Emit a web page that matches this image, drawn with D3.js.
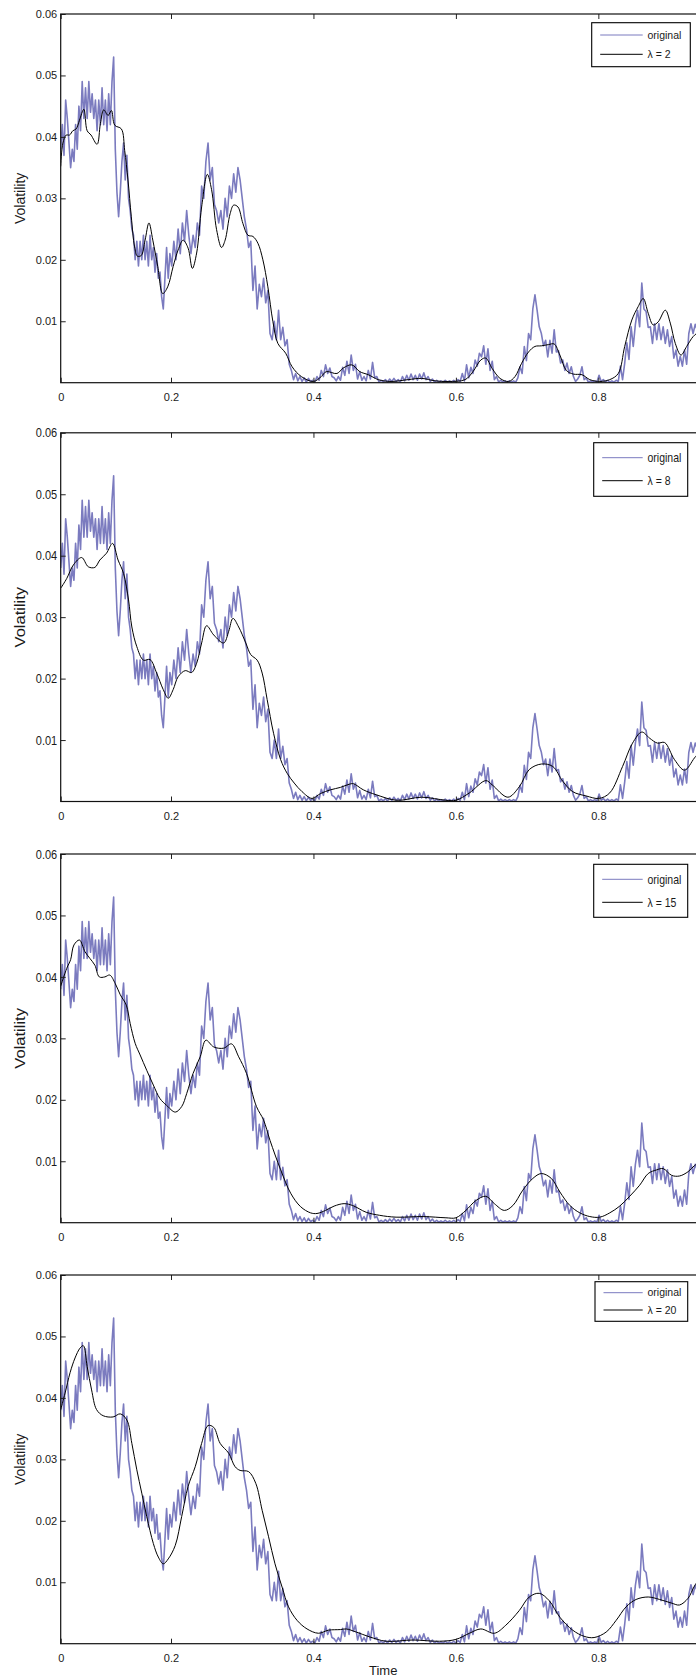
<!DOCTYPE html>
<html><head><meta charset="utf-8">
<script src="https://cdn.jsdelivr.net/npm/d3@7"></script>
<style>
html,body{margin:0;padding:0;background:#fff;overflow:hidden}
svg{display:block}
text{font-family:"Liberation Sans",Arial,Helvetica,sans-serif;fill:#1a1a1a}
</style></head><body>
<svg id="chart" width="696" height="1680"></svg>
<script>
// Volatility values are stored in units of 1e-3.
const volUnit = 1e-3;

// Original volatility path, sampled every 0.003 time units from t = 0.
const timeStep = 0.003;
const originalVol = [
  38,42,37,46,43,39,35,38,36,42,
  38,45,41,49,43,48,43,49,44,47,
  43,46,41,46,42,48,42,46,41,47,
  42,49,53,38,31,27,31,36,39,33,
  37,30,28,25,24,20,23,19,23,20,
  24,20,23,19,24,20,22,18,21,17,
  18,14,12,17,22,17,21,19,23,20,
  25,21,26,23,28,24,21,24,22,26,
  24,32,30,36,39,33,35,29,28,26,
  28,25,30,27,32,30,34,31,35,33,
  30,27,25,22,23,15,19,12,16,14,
  17,13,15,8,7,10,7,11.8,7,9,
  6,7,3,2,0.5,1.5,0.3,1,0.2,0.8,
  0.1,0.7,0.2,0.4,0.1,1,0.4,2,1,2.9,
  1.5,2.4,1,0.8,0.3,1,0.4,2.5,1.2,3.5,
  1.5,4.5,2,3,0.6,1.8,0.4,1,0.3,2,
  0.6,3.3,0.8,1,0.1,0.4,0.1,0.5,0.1,0.6,
  0.2,0.7,0.2,0.5,0.1,1,0.3,1.2,0.4,1.4,
  0.5,1.2,0.4,1.4,0.6,1.6,0.5,1,0.2,0.6,
  0.1,0.4,0.1,0.3,0.1,0.4,0.1,0.3,0.1,0.4,
  0.1,0.5,0.2,1.5,0.3,2.9,0.8,2.5,1.5,3.7,
  2.7,4.8,4.2,6,3,5.5,2,3.5,0.5,1,
  0.1,0.4,0.1,0.3,0.1,0.3,0.1,0.3,0.1,0.8,
  2.6,1.5,5.9,3.6,8,7,12,14.3,11.8,9.1,
  8,6,6.9,4.2,6.9,4.8,8.6,5,5.2,3.2,
  3.7,2,3.2,1.5,2.6,1,0.2,0.6,1.2,2.6,
  0.5,0.8,0.1,0.3,0.1,0.3,0.1,1.2,0.2,0.5,
  0.1,0.4,0.1,0.3,0.1,0.4,0.2,2.7,0.5,3.2,
  6.5,3.8,9.1,5.9,9.5,11.8,9.1,16.2,12,11.6,
  9,9.1,6.4,9.6,7,9.6,7,9.1,6.4,8.6,
  5.9,7.5,4,5.3,2.7,4.3,2.7,5.3,3,8,
  9.6,8,9.5,8.5,10,8.5,9.6,8.5
];

// Smoothed estimates, [time, volatility] pairs.
const smoothLambda2 = [
  [0,35.2],[.004,39],[.010,40.3],[.016,40.3],[.022,41],[.028,41.3],[.034,42.7],[.042,44.5],[.048,41],[.055,40.3],
  [.066,38.8],[.072,42.2],[.078,44.4],[.086,43.5],[.092,44.3],[.098,41.9],[.110,41.3],[.116,37.8],[.122,33],[.128,27],
  [.134,22.1],[.139,20.6],[.146,20.7],[.153,23.2],[.160,26],[.167,23.2],[.176,18.9],[.185,14.5],[.194,15.6],[.203,18.9],
  [.210,21.6],[.217,23.2],[.224,21.9],[.230,18.6],[.236,21.1],[.243,28.6],[.251,33.9],[.257,31.4],[.264,24.9],[.271,22],
  [.276,23.2],[.283,27.5],[.288,28.9],[.294,28.6],[.301,25.9],[.308,24],[.315,23.8],[.322,22.7],[.329,20],[.336,15.6],
  [.343,10],[.350,6.4],[.361,4.8],[.370,2.6],[.383,1],[.400,0.2],[.411,1],[.418,1.8],[.433,1.5],[.442,2.4],
  [.454,2.9],[.465,1.8],[.477,1.3],[.491,0.5],[.509,0.2],[.533,0.5],[.552,0.7],[.571,0.3],[.589,0.2],[.613,0.5],
  [.624,1.8],[.635,3.7],[.642,4],[.651,2.3],[.662,0.7],[.674,0.2],[.683,1],[.692,3.1],[.702,5],[.711,5.9],
  [.720,6],[.730,6.2],[.738,6.3],[.746,4.5],[.755,2],[.765,1.4],[.777,1.3],[.788,0.5],[.802,0.2],[.816,0.5],
  [.828,1.5],[.837,5.9],[.847,10.2],[.856,12.4],[.863,13.7],[.870,11.3],[.877,9.4],[.884,9.9],[.894,11.8],[.901,9.7],
  [.908,6.4],[.916,4.5],[.924,5.9],[.933,7.5],[.940,8.2]
];
const smoothLambda8 = [
  [0,34.7],[.011,36.3],[.023,38.5],[.038,39.7],[.050,38.2],[.062,38.1],[.071,39.3],[.083,40.4],[.094,42],[.104,39.3],
  [.114,37.1],[.123,32.8],[.129,28.4],[.138,25.2],[.150,23],[.162,23.1],[.174,20.9],[.186,18.2],[.195,16.8],[.203,18.2],
  [.210,20.3],[.220,21.3],[.229,21],[.236,22.5],[.243,25.8],[.250,28.6],[.260,27.1],[.274,25.8],[.281,27.7],[.287,29.8],
  [.295,28.4],[.305,25.8],[.312,23.9],[.321,23],[.328,20.9],[.335,16.6],[.344,11.1],[.354,6.8],[.363,4.6],[.373,3],
  [.384,1.6],[.398,0.5],[.410,1.3],[.424,1.9],[.438,2.3],[.450,2.8],[.456,2.9],[.470,1.9],[.488,1.1],[.517,0.2],
  [.552,0.7],[.586,0.2],[.600,0.2],[.619,1.4],[.642,3.4],[.651,2.7],[.673,0.7],[.689,2.4],[.703,5.2],[.720,6.1],
  [.736,5.7],[.750,3.3],[.764,1.6],[.783,0.9],[.801,0.5],[.816,1.4],[.834,5.7],[.848,9.5],[.861,11.3],[.872,10.3],
  [.883,9.5],[.893,9.6],[.907,6.8],[.921,5.1],[.935,7.1],[.945,8.5]
];
const smoothLambda15 = [
  [0,38.5],[.011,41.4],[.018,42.8],[.024,45.2],[.034,46],[.044,44.1],[.053,43],[.062,41.9],[.070,40],[.080,40],
  [.089,40.3],[.099,38.9],[.108,37.1],[.119,35.4],[.126,32.4],[.135,29.2],[.144,27.3],[.156,24.8],[.168,22.4],[.180,20.2],
  [.192,19.1],[.206,18],[.215,18.9],[.222,21],[.231,24.3],[.241,27],[.249,29.7],[.260,28.6],[.274,28.4],[.285,29.1],
  [.295,27],[.306,24.3],[.320,18.9],[.330,16.7],[.339,13.4],[.354,8.6],[.368,4.8],[.382,2.6],[.396,1.6],[.405,1.5],
  [.417,2],[.429,2.7],[.443,3.1],[.455,2.8],[.474,1.7],[.493,1.2],[.516,0.9],[.554,1],[.586,0.8],[.600,0.8],
  [.614,2],[.628,3.6],[.642,4.3],[.654,3.1],[.668,2],[.680,2.8],[.694,5.3],[.708,7.2],[.720,8],[.734,7.2],
  [.746,5],[.760,2.8],[.774,1.6],[.788,1],[.802,0.9],[.816,1.6],[.830,2.7],[.844,4.3],[.858,6.1],[.870,8],
  [.882,8.6],[.891,8.8],[.903,7.7],[.914,7.6],[.926,8.3],[.935,9.3],[.945,10]
];
const smoothLambda20 = [
  [0,38.1],[.008,40.8],[.017,44.1],[.026,46.5],[.035,48.1],[.041,48.5],[.048,45.1],[.056,41.3],[.065,38.1],[.077,37.1],
  [.095,36.9],[.108,37.4],[.120,36.4],[.129,32.6],[.138,28.3],[.147,24.5],[.156,20.7],[.168,16.3],[.177,14.1],[.186,13],
  [.195,13.8],[.206,16],[.215,20.7],[.224,25.6],[.234,28.8],[.243,32.6],[.252,35.5],[.260,35.2],[.269,32.6],[.281,31],
  [.290,28.8],[.297,28.2],[.309,28],[.319,26.1],[.328,21.7],[.337,17.4],[.346,13],[.356,9.2],[.365,6],[.377,3.8],
  [.391,2.4],[.407,1.7],[.421,2.2],[.438,2.3],[.446,2.4],[.460,1.9],[.479,1.1],[.502,0.4],[.540,0.6],[.577,0.4],
  [.600,0.7],[.619,1.7],[.635,2.4],[.654,1.7],[.670,3],[.689,5.4],[.703,7.6],[.717,8.2],[.731,7],[.746,4.3],
  [.764,2.2],[.780,1.2],[.794,1],[.811,1.9],[.825,3.8],[.839,6],[.853,7.2],[.870,7.6],[.886,7.2],[.903,6.6],
  [.914,6.3],[.926,7.4],[.935,9.4],[.945,11]
];

const lambdaLabels = ["2", "8", "15", "20"];
const smoothSeries = [smoothLambda2, smoothLambda8, smoothLambda15, smoothLambda20];
const xTickValues = [0, 0.2, 0.4, 0.6, 0.8];
const xTickLabels = ["0", "0.2", "0.4", "0.6", "0.8"];
const yTickValues = [0.01, 0.02, 0.03, 0.04, 0.05, 0.06];
const yTickLabels = ["0.01", "0.02", "0.03", "0.04", "0.05", "0.06"];
const legendOriginal = "original";
const yTitle = "Volatility";
const xTitle = "Time";

// ---- layout ----
const plotLeft = 60.7;
const plotHeight = 368.7;
const panelTops = [14, 432.8, 854, 1275];
const textStretch = [1, 1.18, 1.18, 1];
const legendBoxes = [
  {x: 591.7, y: 8.7,  w: 98.6, h: 44,   l1: 21,   l2: 40.3},
  {x: 593.7, y: 9.9,  w: 94,   h: 53.6, l1: 24.9, l2: 47.9},
  {x: 593.7, y: 10.3, w: 94,   h: 53,   l1: 25.3, l2: 48.3},
  {x: 595,   y: 6.7,  w: 92.7, h: 39.6, l1: 17.7, l2: 35}
];
const origColor = "#7b7bbf";

const svg = d3.select("#chart");

// Time axis: the first interval is drawn narrower than the rest.
const x = d3.scaleLinear().domain([0, 0.2, 1]).range([plotLeft, 171, 740.8]);
const plotRight = x(1);

panelTops.forEach((top, p) => {
  const y = d3.scaleLinear().domain([0, 0.06]).range([top + plotHeight, top]);
  const g = svg.append("g");
  const s = textStretch[p];

  const clipId = "clip" + p;
  g.append("clipPath").attr("id", clipId)
    .append("rect").attr("x", plotLeft).attr("y", top)
    .attr("width", plotRight - plotLeft).attr("height", plotHeight);

  const data = g.append("g").attr("clip-path", `url(#${clipId})`);

  const origLine = d3.line()
    .x((d, i) => x(i * timeStep))
    .y(d => y(d * volUnit));
  data.append("path").datum(originalVol)
    .attr("d", origLine)
    .attr("fill", "none").attr("stroke", origColor)
    .attr("stroke-width", 1.6).attr("stroke-linejoin", "round");

  const smoothLine = d3.line()
    .x(d => x(d[0]))
    .y(d => y(d[1] * volUnit))
    .curve(d3.curveCatmullRom.alpha(0.5));
  data.append("path").datum(smoothSeries[p])
    .attr("d", smoothLine)
    .attr("fill", "none").attr("stroke", "#000").attr("stroke-width", 1);

  // axes with inward ticks
  const yAxis = d3.axisLeft(y).tickValues(yTickValues)
    .tickFormat((d, i) => yTickLabels[i]).tickSize(-5).tickPadding(3.5);
  const ya = g.append("g").attr("transform", `translate(${plotLeft},0)`).call(yAxis);

  const xAxis = d3.axisBottom(x).tickValues(xTickValues)
    .tickFormat((d, i) => xTickLabels[i]).tickSize(-5).tickPadding(10.5);
  const xa = g.append("g").attr("transform", `translate(0,${top + plotHeight})`).call(xAxis);

  const xTop = d3.axisTop(x).tickValues(xTickValues).tickFormat("").tickSize(-5);
  const xt = g.append("g").attr("transform", `translate(0,${top})`).call(xTop);

  [ya, xa, xt].forEach(a => {
    a.select(".domain").remove();
    a.selectAll(".tick line").attr("stroke", "#222");
    a.selectAll("text").attr("fill", "#1a1a1a")
      .style("font-family", '"Liberation Sans", Arial, sans-serif').style("font-size", "11px");
  });
  if (s !== 1) {
    ya.selectAll(".tick text").attr("transform", `scale(1,${s})`).attr("y", 0);
  }

  // plot frame
  g.append("rect").attr("x", plotLeft).attr("y", top)
    .attr("width", plotRight - plotLeft).attr("height", plotHeight)
    .attr("fill", "none").attr("stroke", "#111").attr("stroke-width", 1.2);

  // y title
  g.append("text")
    .attr("transform", `translate(24.5,${top + plotHeight / 2}) rotate(-90) scale(${s},1)`)
    .attr("text-anchor", "middle")
    .style("font-size", "14px")
    .text(yTitle);

  // legend
  const lb = legendBoxes[p];
  const lg = g.append("g").attr("transform", `translate(0,${top})`);
  lg.append("rect").attr("x", lb.x).attr("y", lb.y).attr("width", lb.w).attr("height", lb.h)
    .attr("fill", "#fff").attr("stroke", "#000").attr("stroke-width", 1.1);
  const items = [
    {label: legendOriginal, color: origColor, ly: lb.l1},
    {label: "\u03bb = " + lambdaLabels[p], color: "#000", ly: lb.l2}
  ];
  items.forEach(it => {
    lg.append("line").attr("x1", lb.x + 8.5).attr("x2", 642.7)
      .attr("y1", it.ly).attr("y2", it.ly)
      .attr("stroke", it.color).attr("stroke-width", 1);
    lg.append("text")
      .attr("transform", `translate(647.5,${it.ly}) scale(1,${s})`)
      .attr("dy", "0.35em")
      .style("font-size", "10.5px")
      .text(it.label);
  });
});

// x title under the last panel
svg.append("text")
  .attr("x", 383.2).attr("y", 1674.5)
  .attr("text-anchor", "middle")
  .style("font-size", "13px")
  .text(xTitle);
</script>
</body></html>
